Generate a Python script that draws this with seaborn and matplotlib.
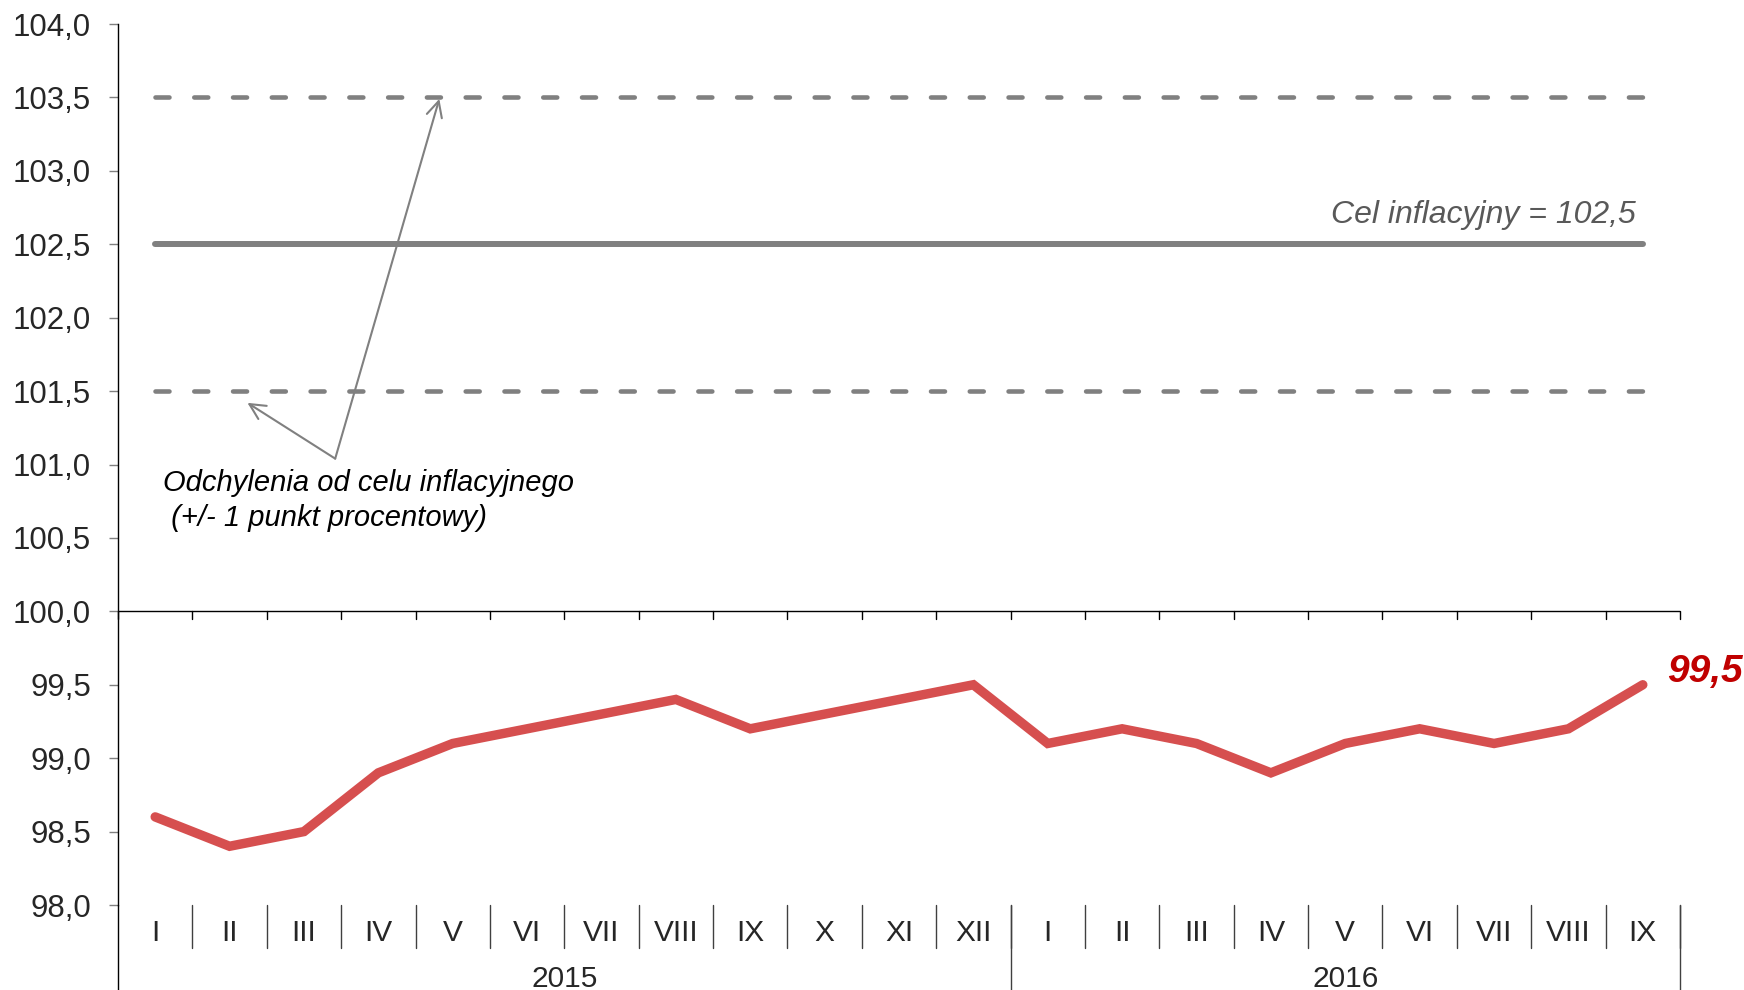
"""CPI path against the NBP inflation target (2015-2016)."""

import matplotlib

matplotlib.use("Agg")
import matplotlib.pyplot as plt
import matplotlib.transforms as mtransforms
import pandas as pd
import seaborn as sns

MONTHS = ["I", "II", "III", "IV", "V", "VI", "VII", "VIII", "IX", "X", "XI", "XII",
          "I", "II", "III", "IV", "V", "VI", "VII", "VIII", "IX"]
YEARS = ["2015", "2016"]
MONTHS_PER_YEAR = [12, 9]
CPI = [98.6, 98.4, 98.5, 98.9, 99.1, 99.2, 99.3, 99.4, 99.2, 99.3, 99.4, 99.5,
       99.1, 99.2, 99.1, 98.9, 99.1, 99.2, 99.1, 99.2, 99.5]
TARGET = 102.5
BAND = 1.0
Y_TICKS = [98.0 + 0.5 * i for i in range(13)]
Y_LABELS = [f"{v:.1f}".replace(".", ",") for v in Y_TICKS]

RED = "#D64F4F"
GREY = "#808080"

sns.set_style("white")
plt.rcParams["font.family"] = ["Liberation Sans", "DejaVu Sans"]

W, H = 1744, 990
fig = plt.figure(figsize=(W / 100, H / 100), dpi=100)
ax = fig.add_axes([118 / W, (H - 905) / H, (1680 - 118) / W, (905 - 24) / H])

df = pd.DataFrame({"pos": range(len(CPI)), "cpi": CPI})
x0, x1 = df["pos"].iloc[0], df["pos"].iloc[-1]

# target and tolerance band
ax.plot([x0, x1], [TARGET, TARGET], color=GREY, lw=4.3, solid_capstyle="round", zorder=2)
for level in (TARGET - BAND, TARGET + BAND):
    ax.plot([x0, x1], [level, level], color=GREY, lw=3.3, dashes=(3.05, 5.41),
            dash_capstyle="round", zorder=2)

sns.lineplot(data=df, x="pos", y="cpi", color=RED, lw=6.8, ax=ax, zorder=3,
             solid_joinstyle="miter", solid_capstyle="round")

# category axis at 100
ax.axhline(100.0, color="black", lw=1.0, zorder=1)
ax.set_xlim(-0.5, len(CPI) - 0.5)
ax.set_ylim(Y_TICKS[0], Y_TICKS[-1])
ax.set_yticks(Y_TICKS)
ax.set_yticklabels(Y_LABELS, fontsize=22.5)
ax.tick_params(axis="y", direction="out", length=6.5, width=1, color=GREY, pad=13, left=True)
ax.set_xticks(list(df["pos"]))
ax.set_xticklabels(MONTHS, fontsize=21.5)
ax.tick_params(axis="x", length=0, pad=10)
ax.set_xlabel("")
ax.set_ylabel("")
for side in ("top", "right", "bottom"):
    ax.spines[side].set_visible(False)
ax.spines["left"].set_color("black")
ax.spines["left"].set_linewidth(1.0)

trans = mtransforms.blended_transform_factory(ax.transData, ax.transAxes)
px = 1 / (905 - 24)
bounds = [p + 0.5 for p in df["pos"]]
year_edges = []
acc = -0.5
for n in MONTHS_PER_YEAR:
    year_edges.append((acc, acc + n))
    acc += n

for b in [-0.5] + bounds:
    # small ticks under the 100 line
    ax.plot([b, b], [100.0, 100.0 - 8 * px * 6.0], color="black", lw=1.0, clip_on=False)
for b in bounds:
    ax.plot([b, b], [0, -43 * px], transform=trans, color="#404040", lw=1.0, clip_on=False)
for start, end in year_edges:
    ax.plot([end, end], [0, -90 * px], transform=trans, color="#404040", lw=1.0, clip_on=False)
ax.plot([-0.5, -0.5], [0, -90 * px], transform=trans, color="black", lw=1.0, clip_on=False)
for (start, end), year in zip(year_edges, YEARS):
    ax.text((start + end) / 2, -74 * px, year, transform=trans, ha="center", va="center",
            fontsize=21.5)

# labels
ax.text(x1 - 0.1, TARGET + 0.145, "Cel inflacyjny = 102,5", ha="right", va="baseline",
        fontsize=23, style="italic", color="#595959")
ax.text(x1 + 0.32, CPI[-1] + 0.09, "99,5", ha="left", va="center", fontsize=28,
        style="italic", weight="bold", color="#C00000",
        family=["Liberation Sans Narrow", "Liberation Sans"], clip_on=False)
ax.text(0.1, 100.755, "Odchylenia od celu inflacyjnego\n (+/- 1 punkt procentowy)",
        ha="left", va="center", fontsize=21, style="italic", color="black",
        linespacing=1.3)
for tx, ty in ((1.24, 101.42), (3.82, 103.49)):
    ax.annotate("", xy=(tx, ty), xytext=(2.42, 101.04),
                arrowprops=dict(arrowstyle="->", color=GREY, lw=1.5,
                                mutation_scale=28, shrinkA=0, shrinkB=0))

fig.savefig("out.png", dpi=100)
